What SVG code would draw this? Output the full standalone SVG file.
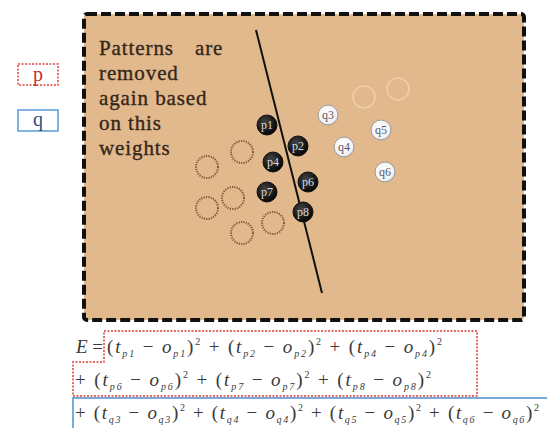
<svg xmlns="http://www.w3.org/2000/svg" width="547" height="428" viewBox="0 0 547 428">
<style>
.lbl{font-family:"Liberation Serif",serif;font-size:21px;letter-spacing:0.9px;fill:#35261a;stroke:#35261a;stroke-width:0.35}
.pc{fill:url(#gp);stroke:#111;stroke-width:1}
.qc{fill:url(#gq);stroke:#9a9a9a;stroke-width:1}
.pt{font-family:"Liberation Serif",serif;font-size:12px;fill:#d8d8d8;text-anchor:middle}
.qt{font-family:"Liberation Serif",serif;font-size:12px;fill:#556;text-anchor:middle}
.dc{fill:none;stroke:#7a5530;stroke-width:2;stroke-dasharray:1.2 1.2}
.fc{fill:none;stroke:#eccfab;stroke-width:1.6}
.eq{font-family:"Liberation Serif",serif;font-size:19px;fill:#3a3a3a}
.i{font-style:italic}
.sub{font-size:10px;font-style:italic}
.sup{font-size:10px}
.leg{font-family:"Liberation Serif",serif;font-size:20px;text-anchor:middle}
</style>
<defs>
<radialGradient id="gp" cx="0.4" cy="0.35" r="0.7"><stop offset="0" stop-color="#444"/><stop offset="1" stop-color="#000"/></radialGradient>
<radialGradient id="gq" cx="0.45" cy="0.4" r="0.7"><stop offset="0" stop-color="#fff"/><stop offset="0.7" stop-color="#f2f2f2"/><stop offset="1" stop-color="#bbb"/></radialGradient>
</defs>
<rect width="547" height="428" fill="#fff"/>
<g id="panel">
<rect x="84" y="14" width="440" height="306" rx="3" fill="#E2B98C" stroke="#111" stroke-width="4" stroke-dasharray="10 4"/>
</g>
<g id="legend-p"><rect x="18" y="64" width="40" height="21" fill="#fff" stroke="#e04040" stroke-width="1.5" stroke-dasharray="2 1.5"/><text class="leg" x="38" y="81" fill="#c83030">p</text></g>
<g id="legend-q"><rect x="18" y="110" width="40" height="21" fill="#fff" stroke="#5a9ad6" stroke-width="1.5"/><text class="leg" x="38" y="126" fill="#2d4f80">q</text></g>
<g id="caption">
<text class="lbl" x="99" y="55">Patterns<tspan x="195">are</tspan></text>
<text class="lbl" x="99" y="80">removed</text>
<text class="lbl" x="99" y="105">again based</text>
<text class="lbl" x="99" y="130">on this</text>
<text class="lbl" x="99" y="155">weights</text>
</g>
<g id="connectors">
<line x1="256" y1="30" x2="322" y2="293" stroke="#111" stroke-width="2"/>
</g>
<g id="removed-circles">
<circle class="dc" cx="242" cy="152" r="11"/>
<circle class="dc" cx="207" cy="167" r="11"/>
<circle class="dc" cx="233" cy="198" r="11"/>
<circle class="dc" cx="207" cy="208" r="11"/>
<circle class="dc" cx="273" cy="223" r="11"/>
<circle class="dc" cx="242" cy="233" r="11"/>
<circle class="fc" cx="364" cy="97" r="11"/>
<circle class="fc" cx="398" cy="89" r="11"/>
</g>
<g id="p1"><circle class="pc" cx="267" cy="125" r="10"/><text class="pt" x="267" y="129">p1</text></g>
<g id="p2"><circle class="pc" cx="298" cy="146" r="10"/><text class="pt" x="298" y="150">p2</text></g>
<g id="p4"><circle class="pc" cx="273" cy="162" r="10"/><text class="pt" x="273" y="166">p4</text></g>
<g id="p6"><circle class="pc" cx="308" cy="182" r="10"/><text class="pt" x="308" y="186">p6</text></g>
<g id="p7"><circle class="pc" cx="267" cy="192" r="10"/><text class="pt" x="267" y="196">p7</text></g>
<g id="p8"><circle class="pc" cx="303" cy="212" r="10"/><text class="pt" x="303" y="216">p8</text></g>
<g id="q3"><circle class="qc" cx="328" cy="115" r="10"/><text class="qt" x="328" y="119">q3</text></g>
<g id="q4"><circle class="qc" cx="344" cy="147" r="10"/><text class="qt" x="344" y="151">q4</text></g>
<g id="q5"><circle class="qc" cx="381" cy="130" r="10"/><text class="qt" x="381" y="134">q5</text></g>
<g id="q6"><circle class="qc" cx="385" cy="172" r="10"/><text class="qt" x="385" y="176">q6</text></g>
<g id="equation">
<path d="M104 331 H477 V396 H73 V362 H104 Z" fill="none" stroke="#e03a3a" stroke-width="1.5" stroke-dasharray="2 1.5"/>
<rect x="73" y="398" width="490" height="40" fill="none" stroke="#4a90d0" stroke-width="1.5"/>
<text class="eq" x="76" y="353"><tspan class="i">E</tspan> =</text>
<text class="eq" x="107" y="353" textLength="335" lengthAdjust="spacing">(<tspan class="i">t</tspan><tspan class="sub" dy="4">p1</tspan><tspan dy="-4"> − </tspan><tspan class="i">o</tspan><tspan class="sub" dy="4">p1</tspan><tspan dy="-4">)</tspan><tspan class="sup" dy="-8">2</tspan><tspan dy="8"> + (</tspan><tspan class="i">t</tspan><tspan class="sub" dy="4">p2</tspan><tspan dy="-4"> − </tspan><tspan class="i">o</tspan><tspan class="sub" dy="4">p2</tspan><tspan dy="-4">)</tspan><tspan class="sup" dy="-8">2</tspan><tspan dy="8"> + (</tspan><tspan class="i">t</tspan><tspan class="sub" dy="4">p4</tspan><tspan dy="-4"> − </tspan><tspan class="i">o</tspan><tspan class="sub" dy="4">p4</tspan><tspan dy="-4">)</tspan><tspan class="sup" dy="-8">2</tspan></text>
<text class="eq" x="75" y="386" textLength="356" lengthAdjust="spacing">+ (<tspan class="i">t</tspan><tspan class="sub" dy="4">p6</tspan><tspan dy="-4"> − </tspan><tspan class="i">o</tspan><tspan class="sub" dy="4">p6</tspan><tspan dy="-4">)</tspan><tspan class="sup" dy="-8">2</tspan><tspan dy="8"> + (</tspan><tspan class="i">t</tspan><tspan class="sub" dy="4">p7</tspan><tspan dy="-4"> − </tspan><tspan class="i">o</tspan><tspan class="sub" dy="4">p7</tspan><tspan dy="-4">)</tspan><tspan class="sup" dy="-8">2</tspan><tspan dy="8"> + (</tspan><tspan class="i">t</tspan><tspan class="sub" dy="4">p8</tspan><tspan dy="-4"> − </tspan><tspan class="i">o</tspan><tspan class="sub" dy="4">p8</tspan><tspan dy="-4">)</tspan><tspan class="sup" dy="-8">2</tspan></text>
<text class="eq" x="75" y="419" textLength="464" lengthAdjust="spacing">+ (<tspan class="i">t</tspan><tspan class="sub" dy="4">q3</tspan><tspan dy="-4"> − </tspan><tspan class="i">o</tspan><tspan class="sub" dy="4">q3</tspan><tspan dy="-4">)</tspan><tspan class="sup" dy="-8">2</tspan><tspan dy="8"> + (</tspan><tspan class="i">t</tspan><tspan class="sub" dy="4">q4</tspan><tspan dy="-4"> − </tspan><tspan class="i">o</tspan><tspan class="sub" dy="4">q4</tspan><tspan dy="-4">)</tspan><tspan class="sup" dy="-8">2</tspan><tspan dy="8"> + (</tspan><tspan class="i">t</tspan><tspan class="sub" dy="4">q5</tspan><tspan dy="-4"> − </tspan><tspan class="i">o</tspan><tspan class="sub" dy="4">q5</tspan><tspan dy="-4">)</tspan><tspan class="sup" dy="-8">2</tspan><tspan dy="8"> + (</tspan><tspan class="i">t</tspan><tspan class="sub" dy="4">q6</tspan><tspan dy="-4"> − </tspan><tspan class="i">o</tspan><tspan class="sub" dy="4">q6</tspan><tspan dy="-4">)</tspan><tspan class="sup" dy="-8">2</tspan></text>
</g>
</svg>
